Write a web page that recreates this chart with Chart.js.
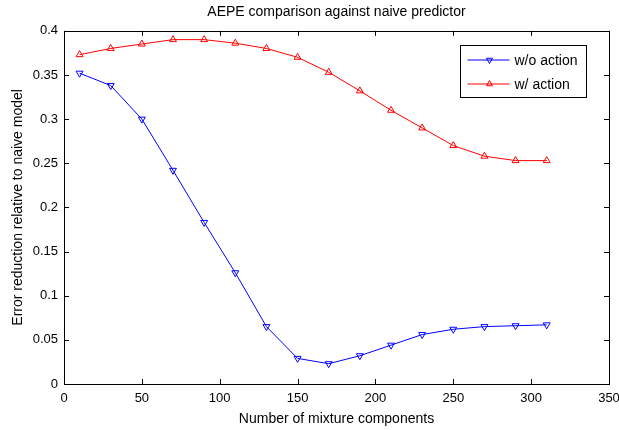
<!DOCTYPE html>
<html>
<head>
<meta charset="utf-8">
<script src="https://cdn.jsdelivr.net/npm/chart.js@4/dist/chart.umd.min.js"></script>
<style>
  html, body { margin: 0; padding: 0; background: #fff; }
  #wrap { width: 619px; height: 430px; }
</style>
</head>
<body>
<div id="wrap"><canvas id="plot" width="619" height="430"></canvas></div>
<script>
// number of mixture components
var components = [10, 30, 50, 70, 90, 110, 130, 150, 170, 190, 210, 230, 250, 270, 290, 310];
var withoutAction = [0.352, 0.338, 0.300, 0.242, 0.183, 0.126, 0.065, 0.029, 0.023, 0.032, 0.044, 0.056, 0.062, 0.065, 0.066, 0.067];
var withAction = [0.373, 0.380, 0.385, 0.390, 0.390, 0.386, 0.380, 0.370, 0.353, 0.332, 0.310, 0.290, 0.270, 0.258, 0.253, 0.253];
var seriesNames = ['w/o action', 'w/ action'];
var xTicks = [0, 50, 100, 150, 200, 250, 300, 350];
var yTicks = [0, 0.05, 0.1, 0.15, 0.2, 0.25, 0.3, 0.35, 0.4];

var fontFamily = '"Liberation Sans", Arial, sans-serif';

var toPoints = function(xs, ys) {
	var pts = [];
	for (var i = 0; i < xs.length; i++) {
		pts.push({ x: xs[i], y: ys[i] });
	}
	return pts;
};

// frame + inward ticks on all four sides, like matlab
var boxPlugin = {
	id: 'box',
	afterDraw: function(chart) {
		var ctx = chart.ctx;
		var a = chart.chartArea;
		var xs = chart.scales.x, ys = chart.scales.y;
		ctx.save();
		ctx.strokeStyle = '#000';
		ctx.lineWidth = 1;
		ctx.beginPath();
		xTicks.forEach(function(v) {
			var p = Math.round(xs.getPixelForValue(v)) + 0.5;
			ctx.moveTo(p, a.bottom); ctx.lineTo(p, a.bottom - 5);
			ctx.moveTo(p, a.top); ctx.lineTo(p, a.top + 5);
		});
		yTicks.forEach(function(v) {
			var p = Math.round(ys.getPixelForValue(v)) + 0.5;
			ctx.moveTo(a.left, p); ctx.lineTo(a.left + 5, p);
			ctx.moveTo(a.right, p); ctx.lineTo(a.right - 5, p);
		});
		ctx.stroke();
		ctx.strokeRect(Math.round(a.left) + 0.5, Math.round(a.top) + 0.5,
			Math.round(a.right - a.left), Math.round(a.bottom - a.top));

		// legend box
		var lx = 460.5, ly = 45.5, lw = 126, lh = 52;
		ctx.fillStyle = '#fff';
		ctx.fillRect(lx, ly, lw, lh);
		ctx.strokeRect(lx, ly, lw, lh);
		var ds = chart.data.datasets;
		ctx.font = '14px ' + fontFamily;
		ctx.textBaseline = 'middle';
		for (var i = 0; i < ds.length; i++) {
			var yy = ly + 14.5 + i * 24;
			ctx.strokeStyle = ds[i].borderColor;
			ctx.beginPath();
			ctx.moveTo(lx + 7, yy); ctx.lineTo(lx + 49, yy);
			ctx.stroke();
			ctx.fillStyle = 'rgba(0,0,0,0)';
			Chart.helpers.drawPoint(ctx, {
				pointStyle: 'triangle', radius: 3.5, rotation: ds[i].pointRotation, borderWidth: 1
			}, lx + 29, yy);
			ctx.fillStyle = '#000';
			ctx.textAlign = 'left';
			ctx.fillText(ds[i].label, lx + 54, yy + 1);
		}
		ctx.restore();
	}
};

var config = {
	type: 'line',
	data: {
		datasets: [
			{
				label: seriesNames[0],
				data: toPoints(components, withoutAction),
				borderColor: '#0000ff',
				borderWidth: 1,
				pointStyle: 'triangle',
				pointRotation: 180,
				pointRadius: 4,
				pointBorderColor: '#0000ff',
				pointBackgroundColor: 'rgba(0,0,0,0)',
				pointBorderWidth: 1,
				tension: 0
			},
			{
				label: seriesNames[1],
				data: toPoints(components, withAction),
				borderColor: '#ff0000',
				borderWidth: 1,
				pointStyle: 'triangle',
				pointRotation: 0,
				pointRadius: 4,
				pointBorderColor: '#ff0000',
				pointBackgroundColor: 'rgba(0,0,0,0)',
				pointBorderWidth: 1,
				tension: 0
			}
		]
	},
	options: {
		responsive: false,
		animation: false,
		layout: { padding: { top: 0, right: 0, left: 0, bottom: 0 } },
		plugins: {
			legend: { display: false },
			tooltip: { enabled: false },
			title: {
				display: true,
				fullSize: false,
				text: 'AEPE comparison against naive predictor',
				color: '#000',
				font: { family: fontFamily, size: 14, weight: 'normal' },
				padding: { top: 4, bottom: 10 }
			}
		},
		scales: {
			x: {
				type: 'linear',
				min: 0,
				max: 350,
				afterBuildTicks: function(scale) {
					scale.ticks = xTicks.map(function(v) { return { value: v }; });
				},
				afterFit: function(scale) {
					scale.height = 46;
					scale.paddingLeft = 0;
					scale.paddingRight = 10;
				},
				grid: { display: false, drawTicks: false },
				border: { display: false },
				ticks: { color: '#000', padding: 7, maxRotation: 0, font: { family: fontFamily, size: 13 } },
				title: {
					display: true,
					text: 'Number of mixture components',
					color: '#000',
					font: { family: fontFamily, size: 14 },
					padding: { top: 2, bottom: 2 }
				}
			},
			y: {
				type: 'linear',
				min: 0,
				max: 0.4,
				afterBuildTicks: function(scale) {
					scale.ticks = yTicks.map(function(v) { return { value: v }; });
				},
				afterFit: function(scale) { scale.width = 64; },
				grid: { display: false, drawTicks: false },
				border: { display: false },
				ticks: {
					color: '#000',
					padding: 6,
					font: { family: fontFamily, size: 13 },
					callback: function(v) { return String(Math.round(v * 100) / 100); }
				},
				title: {
					display: true,
					text: 'Error reduction relative to naive model',
					color: '#000',
					font: { family: fontFamily, size: 14 },
					padding: { top: 10, bottom: 2 }
				}
			}
		}
	},
	plugins: [boxPlugin]
};

var ctx = document.getElementById('plot').getContext('2d');
window.myLine = new Chart(ctx, config);
</script>
</body>
</html>
